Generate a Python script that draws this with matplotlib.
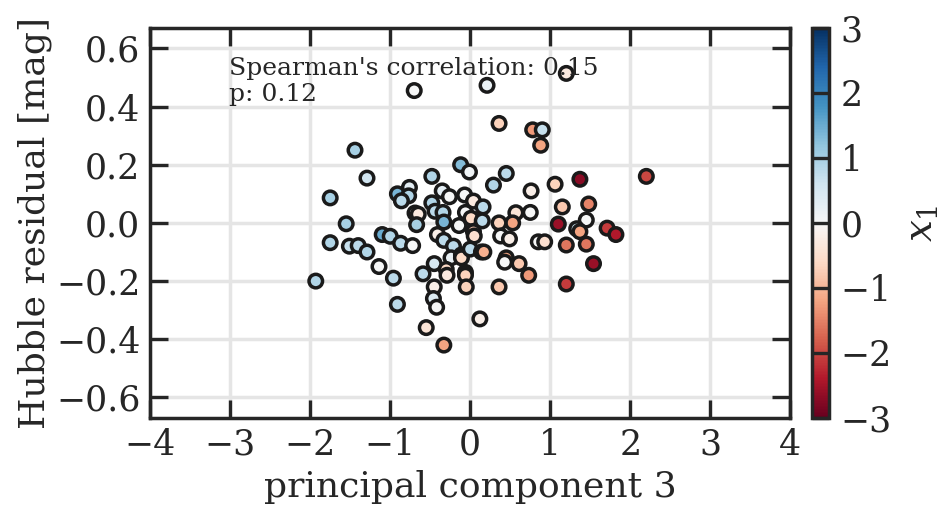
import matplotlib
matplotlib.use("Agg")
import matplotlib.pyplot as plt
import numpy as np

plt.rcParams["font.family"] = "DejaVu Serif"
plt.rcParams["mathtext.fontset"] = "dejavuserif"

# principal component 3, Hubble residual, x1 (colour)
pc3 = [-0.70, -1.44, -1.29, -1.75, -1.55, -1.75, -1.51, -1.40, -1.29, -0.91,
       -0.76, -0.77, -0.86, -0.48, -0.12, -0.01, -0.35, -0.26, -0.07, 0.04,
       -0.48, -0.44, -0.34, -0.33, -0.69, -0.65, -0.67, -0.14, -0.06, 0.01,
       0.04, 0.05, -1.10, -1.00, -0.87, -0.72, -1.14, -0.96, -1.93, -0.91,
       -0.59, -0.45, -0.41, -0.33, -0.21, -0.24, -0.11, -0.11, 0.00, -0.30,
       -0.29, -0.06, -0.06, -0.05, -0.45, -0.46, -0.42, -0.55, -0.33, 0.12,
       1.20, 0.21, 0.36, 0.78, 0.90, 0.88, 2.20, 1.37, 0.45, 0.29,
       0.76, 1.06, 1.15, 1.48, 1.45, 1.10, 1.33, 1.37, 1.71, 1.82,
       1.20, 1.45, 0.57, 0.75, 0.53, 0.36, 0.38, 0.49, 0.85, 0.93,
       0.16, 0.15, 0.14, 0.17, 0.45, 0.43, 0.61, 0.73, 0.36, 1.20,
       1.54]
hubble_res = [0.455, 0.250, 0.154, 0.086, -0.003, -0.068, -0.080, -0.078, -0.100, 0.100,
              0.122, 0.093, 0.076, 0.160, 0.200, 0.175, 0.110, 0.090, 0.096, 0.075,
              0.069, 0.040, 0.036, 0.003, 0.034, 0.030, -0.006, -0.009, 0.036, 0.016,
              -0.030, -0.045, -0.040, -0.046, -0.070, -0.078, -0.150, -0.190, -0.200, -0.280,
              -0.175, -0.140, -0.040, -0.060, -0.080, -0.120, -0.110, -0.120, -0.090, -0.160,
              -0.180, -0.170, -0.180, -0.220, -0.220, -0.260, -0.290, -0.360, -0.420, -0.330,
              0.514, 0.473, 0.342, 0.320, 0.320, 0.267, 0.160, 0.150, 0.170, 0.130,
              0.110, 0.133, 0.055, 0.065, 0.010, -0.004, -0.020, -0.030, -0.018, -0.040,
              -0.076, -0.073, 0.035, 0.036, 0.000, 0.000, -0.045, -0.055, -0.065, -0.065,
              0.055, 0.007, -0.100, -0.100, -0.120, -0.135, -0.140, -0.180, -0.220, -0.210,
              -0.140]
x1 = [0.0, 1.0, 0.6, 1.0, 1.0, 0.9, 0.7, 0.8, 0.9, 1.4,
      0.3, 0.9, 0.8, 0.9, 1.3, 0.1, 0.3, 0.0, 0.0, -0.3,
      0.9, 0.8, 0.9, 1.4, 0.0, -0.3, 1.0, 0.0, 0.0, -0.6,
      -0.8, -0.5, 1.5, 0.9, 0.8, 0.0, 0.0, 0.8, 0.9, 0.8,
      0.8, 0.5, -0.2, 0.8, 0.8, 0.2, 0.0, -0.6, 0.8, -0.6,
      -0.3, 0.0, -0.7, -0.7, -0.2, 0.4, 0.0, -0.4, -1.2, -0.2,
      -0.3, 0.2, -0.7, -1.3, 0.7, -1.2, -2.0, -2.7, 0.8, 0.9,
      -0.2, -0.7, -0.8, -1.5, 0.0, -2.6, 0.7, -1.2, -2.1, -2.4,
      -1.6, -1.6, -0.4, 0.0, -1.2, -0.7, 0.0, -0.2, 0.0, -0.5,
      0.8, 0.8, -0.6, -1.1, -1.2, 0.0, -0.8, -1.3, -0.8, -2.1,
      -2.6]

spearman_r = 0.15
p_value = 0.12

fig = plt.figure(figsize=(9.5, 5.19), dpi=100)
ax = fig.add_axes([0.158, 0.195, 0.674, 0.751])
cax = fig.add_axes([0.855, 0.195, 0.018, 0.751])

ax.grid(True, color="#e5e5e5", lw=2.5, zorder=0)
ax.set_axisbelow(True)
sc = ax.scatter(pc3, hubble_res, c=x1, cmap="RdBu", vmin=-3, vmax=3,
                s=95, edgecolors="#1a1a1a", linewidths=2.5, zorder=3)

ax.set_xlim(-4, 4)
ax.set_ylim(-0.67, 0.67)
ax.set_xticks(np.arange(-4, 5, 1))
ax.set_yticks([-0.6, -0.4, -0.2, 0.0, 0.2, 0.4, 0.6])
ax.tick_params(direction="in", length=13, width=2.4, color="#262626",
               labelsize=25, top=True, right=True, pad=7, labelcolor="#262626")
for sp in ax.spines.values():
    sp.set_linewidth(2.5)
    sp.set_color("#262626")

ax.set_xlabel("principal component 3", fontsize=26, color="#262626", labelpad=6)
ax.set_ylabel("Hubble residual [mag]", fontsize=26, color="#262626", labelpad=3)
ax.text(0.123, 0.925, f"Spearman's correlation: {spearman_r:.2f}\np: {p_value:.2f}",
        transform=ax.transAxes, fontsize=18, va="top", ha="left",
        color="#262626", linespacing=1.15, zorder=5)

cb = fig.colorbar(sc, cax=cax, ticks=[-3, -2, -1, 0, 1, 2, 3])
cb.outline.set_linewidth(2.5)
cb.outline.set_edgecolor("#262626")
cax.tick_params(direction="in", length=12.5, width=2.4, color="#262626",
                labelsize=25, pad=8, labelcolor="#262626")
cb.set_label("$x_1$", fontsize=28, labelpad=8, color="#262626")

fig.savefig("out.png", dpi=100)
